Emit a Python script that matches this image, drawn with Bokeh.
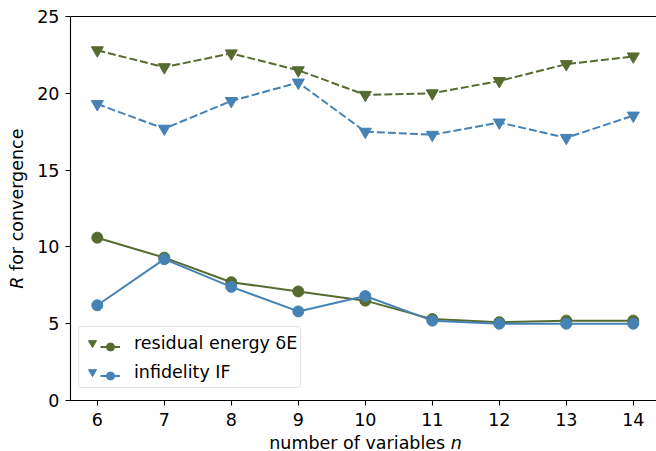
import math
from bokeh.plotting import figure
from bokeh.models import (Range1d, FixedTicker, Legend, LegendItem, Label,
                          LinearAxis, ColumnDataSource)
from bokeh.embed import file_html
from bokeh.resources import INLINE

# ---- data ----
n_vars = [6, 7, 8, 9, 10, 11, 12, 13, 14]
energy_dashed = [22.8, 21.7, 22.6, 21.5, 19.9, 20.0, 20.8, 21.9, 22.4]
energy_solid = [10.6, 9.3, 7.7, 7.1, 6.5, 5.3, 5.1, 5.2, 5.2]
infid_dashed = [19.3, 17.7, 19.5, 20.7, 17.5, 17.3, 18.1, 17.1, 18.55]
infid_solid = [6.2, 9.2, 7.4, 5.8, 6.8, 5.2, 5.0, 5.0, 5.0]
x_ticks = [6, 7, 8, 9, 10, 11, 12, 13, 14]
y_ticks = [0, 5, 10, 15, 20, 25]
label_energy = "residual energy δE"
label_infid = "infidelity IF"

GREEN = "#556b2f"
BLUE = "#4682b4"
FONT = "DejaVu Sans"
FS = "17.5px"

W, H = 656, 451
# axes box in pixels (matplotlib-like): left 70, top 16, bottom 400
X0, X1 = 5.6, 14.4
Y0, Y1 = 0.0, 25.0
PXU_X = 67.0
PXU_Y = 15.36
LEFT, BOTTOM = 70, 51  # from canvas left / bottom
x_start = X0 - LEFT / PXU_X
x_end = x_start + W / PXU_X
y_start = Y0 - BOTTOM / PXU_Y
y_end = y_start + H / PXU_Y

p = figure(width=W, height=H, output_backend="svg", toolbar_location=None,
           x_range=Range1d(x_start, x_end), y_range=Range1d(y_start, y_end),
           min_border=0, title=None, x_axis_type=None, y_axis_type=None)
p.background_fill_color = "white"
p.border_fill_color = "white"
p.outline_line_color = None
p.grid.visible = False

src_e = ColumnDataSource(dict(x=n_vars, d=energy_dashed, s=energy_solid))
src_i = ColumnDataSource(dict(x=n_vars, d=infid_dashed, s=infid_solid))

# energy
e_dl = p.line("x", "d", source=src_e, line_color=GREEN, line_width=2, line_dash="8 3")
e_dm = p.scatter("x", "d", source=src_e, marker="inverted_triangle", size=12,
                 fill_color=GREEN, line_color=GREEN)
e_sl = p.line("x", "s", source=src_e, line_color=GREEN, line_width=2)
e_sm = p.scatter("x", "s", source=src_e, marker="circle", size=11,
                 fill_color=GREEN, line_color=GREEN)
# infidelity
i_dl = p.line("x", "d", source=src_i, line_color=BLUE, line_width=2, line_dash="8 3")
i_dm = p.scatter("x", "d", source=src_i, marker="inverted_triangle", size=12,
                 fill_color=BLUE, line_color=BLUE)
i_sl = p.line("x", "s", source=src_i, line_color=BLUE, line_width=2)
i_sm = p.scatter("x", "s", source=src_i, marker="circle", size=11,
                 fill_color=BLUE, line_color=BLUE)


def style_axis(ax, standoff):
    ax.axis_line_color = "black"
    ax.axis_line_width = 1.1
    ax.major_tick_line_color = "black"
    ax.major_tick_line_width = 1.1
    ax.major_tick_out = 5
    ax.major_tick_in = 0
    ax.minor_tick_line_color = None
    ax.major_label_text_font = FONT
    ax.major_label_text_font_size = FS
    ax.major_label_text_color = "black"
    ax.major_label_standoff = standoff


xaxis = LinearAxis(ticker=FixedTicker(ticks=x_ticks), fixed_location=Y0, bounds=(X0, X1))
style_axis(xaxis, 7)
yaxis = LinearAxis(ticker=FixedTicker(ticks=y_ticks), fixed_location=X0, bounds=(Y0, Y1))
style_axis(yaxis, 6)
top_spine = LinearAxis(ticker=FixedTicker(ticks=[]), fixed_location=Y1, bounds=(X0, X1),
                       major_label_text_font_size="0px")
style_axis(top_spine, 0)
top_spine.major_tick_line_color = None
p.add_layout(xaxis, "below")
p.add_layout(yaxis, "left")
p.add_layout(top_spine, "above")

# axis labels (mixed upright / italic), screen units from canvas bottom-left
p.add_layout(Label(x=268.7, y=9, x_units="screen", y_units="screen",
                   text="number of variables", text_font=FONT, text_font_size=FS,
                   text_align="left", text_baseline="alphabetic", text_color="black"))
p.add_layout(Label(x=450.3, y=9, x_units="screen", y_units="screen",
                   text="n", text_font=FONT, text_font_size=FS, text_font_style="italic",
                   text_align="left", text_baseline="alphabetic", text_color="black"))
p.add_layout(Label(x=16, y=162.8, x_units="screen", y_units="screen", angle=math.pi / 2,
                   text="R", text_font=FONT, text_font_size=FS, text_font_style="italic",
                   text_align="left", text_baseline="alphabetic", text_color="black"))
p.add_layout(Label(x=16, y=180.5, x_units="screen", y_units="screen", angle=math.pi / 2,
                   text="for convergence", text_font=FONT, text_font_size=FS,
                   text_align="left", text_baseline="alphabetic", text_color="black"))

# legend: triangles + labels (with frame), circles overlaid in second legend
leg_a = Legend(items=[LegendItem(label=label_energy, renderers=[e_dm]),
                      LegendItem(label=label_infid, renderers=[i_dm])],
               location=(78, 63), margin=0, padding=3, spacing=4,
               glyph_width=20, glyph_height=25, label_standoff=32,
               label_text_font=FONT, label_text_font_size=FS, label_text_color="black",
               border_line_color="#cccccc", border_line_width=1,
               background_fill_color="white", background_fill_alpha=0.8)
if "border_radius" in Legend.properties():
    leg_a.border_radius = 4
leg_b = Legend(items=[LegendItem(label=" ", renderers=[e_sl, e_sm]),
                      LegendItem(label=" ", renderers=[i_sl, i_sm])],
               location=(100, 63), margin=0, padding=3, spacing=4,
               glyph_width=20, glyph_height=25, label_standoff=0,
               label_text_font=FONT, label_text_font_size=FS,
               border_line_color=None, background_fill_alpha=0)
p.add_layout(leg_a)
p.add_layout(leg_b)

open("out.html", "w").write(file_html(p, INLINE))
